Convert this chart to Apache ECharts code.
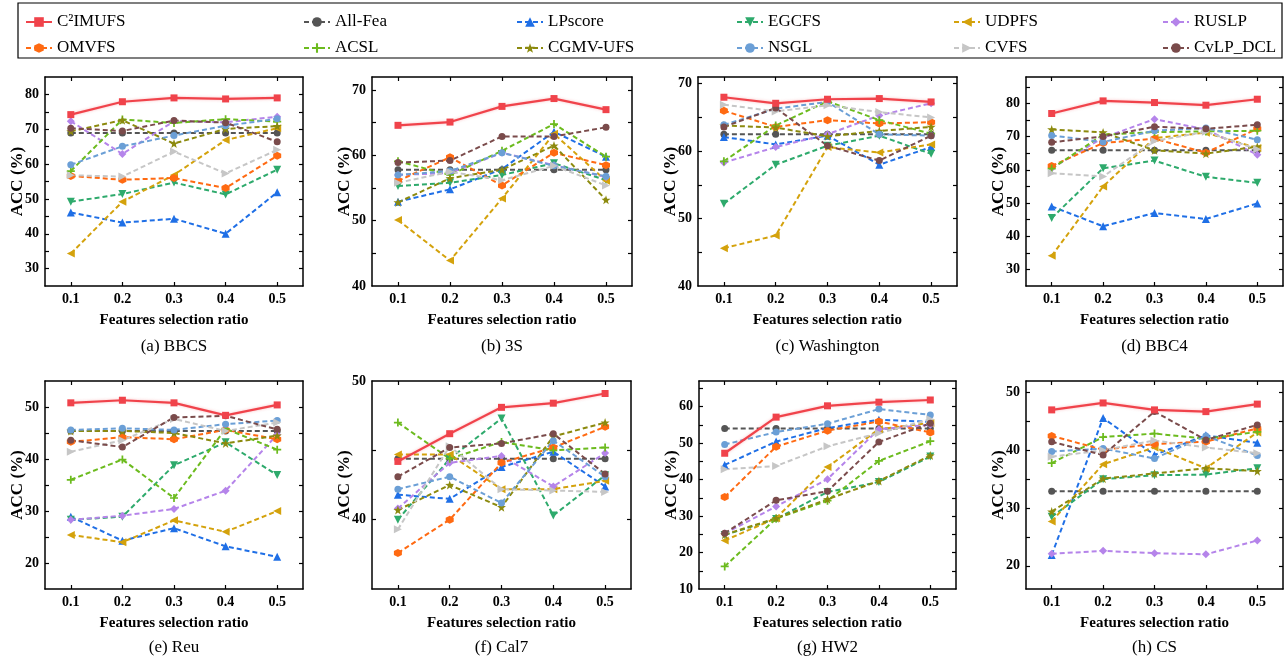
<!DOCTYPE html>
<html>
<head>
<meta charset="utf-8">
<title>ACC vs features selection ratio</title>
<script src="https://cdn.jsdelivr.net/npm/echarts@6/dist/echarts.min.js"></script>
<style>
  html, body { margin: 0; padding: 0; background: #fff; }
  #chart { width: 1286px; height: 664px; }
</style>
</head>
<body>
<div id="chart"></div>
<script>
// Feature selection ratios on the x axis
const ratios = [0.1, 0.2, 0.3, 0.4, 0.5];

// Compared methods (row order of every dataset table below)
const methods = ['C²IMUFS', 'All-Fea', 'LPscore', 'EGCFS', 'UDPFS', 'RUSLP',
                 'OMVFS', 'ACSL', 'CGMV-UFS', 'NSGL', 'CVFS', 'CvLP_DCL'];

// ACC (%) per dataset, one row per method, one column per ratio
const BBCS = [
  [74.2, 77.9, 79.0, 78.7, 79.0],
  [68.9, 68.9, 68.9, 68.9, 68.9],
  [46.1, 43.2, 44.3, 40.0, 51.9],
  [49.2, 51.4, 54.7, 51.3, 58.4],
  [34.3, 49.2, 56.9, 66.9, 70.3],
  [72.3, 62.9, 72.3, 72.0, 73.6],
  [56.6, 55.5, 56.0, 53.1, 62.4],
  [58.0, 72.8, 71.8, 72.9, 72.2],
  [69.4, 72.6, 65.9, 70.1, 70.9],
  [59.8, 65.1, 68.2, 71.0, 73.0],
  [56.8, 56.4, 63.6, 57.3, 64.1],
  [70.3, 69.5, 72.5, 71.9, 66.4]
];
const S3 = [
  [64.6, 65.1, 67.5, 68.7, 67.0],
  [57.8, 57.8, 57.8, 57.8, 57.8],
  [52.9, 54.8, 57.9, 63.6, 59.8],
  [55.3, 55.8, 57.0, 58.8, 56.2],
  [50.1, 43.9, 53.4, 63.3, 56.1],
  [57.0, 57.3, 60.4, 58.5, 56.7],
  [56.1, 59.7, 55.4, 60.4, 58.5],
  [59.1, 57.0, 60.7, 64.8, 59.8],
  [52.8, 56.5, 57.8, 61.5, 53.2],
  [57.0, 57.6, 60.4, 58.4, 56.8],
  [55.8, 57.5, 56.2, 58.4, 55.4],
  [58.9, 59.2, 62.9, 62.9, 64.3]
];
const Washington = [
  [68.0, 67.1, 67.7, 67.8, 67.3],
  [62.5, 62.5, 62.5, 62.5, 62.5],
  [62.1, 61.0, 62.3, 58.0, 60.6],
  [52.2, 58.0, 60.8, 62.3, 59.6],
  [45.6, 47.5, 60.6, 59.8, 61.0],
  [58.3, 60.6, 62.5, 65.3, 67.1],
  [66.0, 63.6, 64.6, 64.1, 64.3],
  [58.5, 63.8, 67.4, 64.6, 62.6],
  [63.8, 63.5, 62.2, 63.0, 63.6],
  [63.9, 66.3, 67.3, 62.5, 62.3],
  [66.9, 65.9, 66.8, 65.8, 65.0],
  [63.6, 66.4, 60.8, 58.6, 62.3]
];
const BBC4 = [
  [77.0, 80.8, 80.3, 79.5, 81.3],
  [65.9, 65.9, 65.9, 65.9, 65.9],
  [49.0, 43.0, 47.0, 45.2, 49.9],
  [45.5, 60.5, 62.8, 57.9, 56.1],
  [34.1, 55.0, 69.6, 71.2, 66.6],
  [60.5, 69.7, 75.3, 72.2, 64.6],
  [61.2, 68.1, 69.4, 65.2, 72.4],
  [60.4, 70.6, 71.4, 71.6, 71.8],
  [72.2, 71.3, 65.9, 64.9, 67.0],
  [70.4, 68.4, 71.8, 72.6, 69.1],
  [59.0, 58.0, 68.7, 71.5, 66.2],
  [68.3, 70.1, 73.0, 72.4, 73.6]
];
const Reu = [
  [50.8, 51.3, 50.8, 48.4, 50.4],
  [45.4, 45.4, 45.4, 45.4, 45.4],
  [28.9, 24.3, 26.7, 23.2, 21.2],
  [28.3, 28.9, 38.8, 43.2, 36.9],
  [25.4, 24.0, 28.2, 26.0, 30.0],
  [28.3, 29.1, 30.4, 33.9, 44.7],
  [43.3, 44.2, 43.8, 45.6, 43.8],
  [36.0, 39.9, 32.5, 45.8, 41.8],
  [45.4, 45.4, 45.0, 43.0, 44.5],
  [45.6, 45.9, 45.6, 46.7, 47.4],
  [41.4, 43.6, 47.7, 45.4, 47.0],
  [43.6, 42.3, 48.0, 48.3, 45.7]
];
const Cal7 = [
  [44.2, 46.2, 48.1, 48.4, 49.1],
  [44.4, 44.4, 44.4, 44.4, 44.4],
  [41.8, 41.5, 43.8, 44.9, 42.4],
  [40.0, 44.4, 47.3, 40.3, 43.2],
  [44.7, 44.7, 42.2, 42.2, 42.8],
  [40.8, 44.1, 44.6, 42.4, 44.8],
  [37.6, 40.0, 44.1, 45.2, 46.7],
  [47.0, 44.4, 45.6, 45.0, 45.2],
  [40.7, 42.5, 40.9, 46.0, 47.0],
  [42.2, 43.1, 41.2, 45.7, 43.1],
  [39.3, 45.3, 42.2, 42.1, 42.0],
  [43.1, 45.2, 45.5, 46.2, 43.3]
];
const HW2 = [
  [47.2, 57.1, 60.2, 61.2, 61.8],
  [54.0, 54.0, 54.0, 54.0, 54.0],
  [44.0, 50.4, 54.1, 56.4, 55.8],
  [24.8, 29.2, 36.6, 39.3, 46.3],
  [23.3, 29.4, 43.4, 53.8, 55.5],
  [25.2, 32.6, 40.1, 53.8, 55.0],
  [35.2, 49.0, 53.4, 55.9, 52.9],
  [16.2, 29.3, 34.2, 45.1, 50.5],
  [24.9, 29.4, 34.6, 39.6, 46.6],
  [49.6, 53.0, 55.3, 59.3, 57.7],
  [42.8, 43.7, 49.1, 52.7, 56.5],
  [25.3, 34.3, 36.8, 50.3, 55.4]
];
const CS = [
  [47.0, 48.2, 47.0, 46.7, 48.0],
  [32.9, 32.9, 32.9, 32.9, 32.9],
  [21.9, 45.6, 39.2, 42.6, 41.3],
  [28.5, 35.0, 35.7, 35.8, 36.9],
  [27.7, 37.6, 40.5, 36.9, 43.1],
  [22.1, 22.6, 22.2, 22.0, 24.4],
  [42.5, 40.1, 41.1, 41.5, 43.8],
  [37.8, 42.3, 42.9, 42.0, 43.2],
  [29.4, 35.1, 36.0, 36.9, 36.4],
  [39.8, 40.3, 38.6, 42.5, 39.1],
  [38.9, 40.0, 41.7, 40.5, 39.5],
  [41.5, 39.2, 46.7, 41.8, 44.4]
];

const datasets = [BBCS, S3, Washington, BBC4, Reu, Cal7, HW2, CS];
const panelTitles = ['(a) BBCS', '(b) 3S', '(c) Washington', '(d) BBC4',
                     '(e) Reu', '(f) Cal7', '(g) HW2', '(h) CS'];

// y-axis extents and tick labels of each panel
const yMins = [25, 40, 40, 25, 15, 35, 10, 16];
const yMaxs = [85, 72, 71, 88, 55, 50, 67, 52];
const yTickLabels = [
  [30, 40, 50, 60, 70, 80],
  [40, 50, 60, 70],
  [40, 50, 60, 70],
  [30, 40, 50, 60, 70, 80],
  [20, 30, 40, 50],
  [40, 50],
  [10, 20, 30, 40, 50, 60],
  [20, 30, 40, 50]
];

// ---- styling ----
const FONT = '"Liberation Serif", "Times New Roman", serif';
const colors = ['#f0434b', '#555555', '#1f6fe6', '#2eaa6c', '#d4a20c', '#b584ea',
                '#ff6a12', '#6cbb1e', '#8c8a0e', '#6b9fd6', '#c6c6c6', '#7a4b4b'];
const HEX = 'path://M0,-10L8.66,-5L8.66,5L0,10L-8.66,5L-8.66,-5Z';
const PLUS = 'path://M-1.3,-6H1.3V-1.3H6V1.3H1.3V6H-1.3V1.3H-6V-1.3H-1.3Z';
const STAR = 'path://M0,-10L2.35,-3.24L9.51,-3.09L3.8,1.24L5.88,8.09L0,4L-5.88,8.09L-3.8,1.24L-9.51,-3.09L-2.35,-3.24Z';
const symbols = [
  { s: 'rect', size: 7, rot: 0 },
  { s: 'circle', size: 7, rot: 0 },
  { s: 'triangle', size: 8, rot: 0 },
  { s: 'triangle', size: 8, rot: 180 },
  { s: 'triangle', size: 8, rot: 90 },
  { s: 'diamond', size: 8, rot: 0 },
  { s: HEX, size: 8, rot: 0 },
  { s: PLUS, size: 8, rot: 0 },
  { s: STAR, size: 9, rot: 0 },
  { s: 'circle', size: 7, rot: 0 },
  { s: 'triangle', size: 8, rot: -90 },
  { s: 'circle', size: 7, rot: 0 }
];

const gridPos = [
  { left: 45, top: 77, width: 258, height: 209 },
  { left: 372, top: 77, width: 260, height: 209 },
  { left: 698, top: 77, width: 259, height: 209 },
  { left: 1026, top: 77, width: 257, height: 209 },
  { left: 45, top: 381, width: 258, height: 208 },
  { left: 372, top: 381, width: 259, height: 208 },
  { left: 699, top: 381, width: 257, height: 208 },
  { left: 1026, top: 381, width: 257, height: 208 }
];

const axisLineStyle = { show: true, onZero: false, lineStyle: { color: '#000', width: 1.5 } };
const tickFont = { fontFamily: FONT, fontWeight: 'bold', fontSize: 14, color: '#000' };

const grids = [], xAxes = [], yAxes = [], series = [], graphics = [];

gridPos.forEach((g, i) => {
  grids.push({ left: g.left, top: g.top, width: g.width, height: g.height, containLabel: false });

  // minor + major tick positions on the y axis, every 5 units
  const yTicks = [];
  for (let v = Math.ceil(yMins[i] / 5) * 5; v <= yMaxs[i]; v += 5) {
    if (v > yMins[i] && v < yMaxs[i]) yTicks.push(v);
  }

  ['bottom', 'top'].forEach((pos) => {
    xAxes.push({
      gridIndex: i, type: 'value', position: pos, min: 0.05, max: 0.55,
      axisLine: axisLineStyle,
      axisTick: { show: true, inside: true, length: 4, customValues: ratios,
                  lineStyle: { color: '#000', width: 1.2 } },
      axisLabel: { show: pos === 'bottom', customValues: ratios, margin: 6,
                   formatter: (v) => v.toFixed(1), ...tickFont },
      splitLine: { show: false }
    });
  });
  ['left', 'right'].forEach((pos) => {
    yAxes.push({
      gridIndex: i, type: 'value', position: pos, min: yMins[i], max: yMaxs[i],
      axisLine: axisLineStyle,
      axisTick: { show: true, inside: true, length: 4, customValues: yTicks,
                  lineStyle: { color: '#000', width: 1.2 } },
      axisLabel: { show: pos === 'left', customValues: yTickLabels[i], margin: 6, ...tickFont },
      splitLine: { show: false }
    });
  });

  const table = datasets[i];
  methods.forEach((name, j) => {
    const sym = symbols[j];
    series.push({
      type: 'line', name: name,
      xAxisIndex: i * 2, yAxisIndex: i * 2,
      data: ratios.map((r, k) => [r, table[j][k]]),
      symbol: sym.s, symbolSize: sym.size, symbolRotate: sym.rot,
      showAllSymbol: true,
      itemStyle: { color: colors[j], opacity: 1 },
      lineStyle: j === 0
        ? { color: colors[j], width: 2.2, type: 'solid',
            shadowColor: 'rgba(240,67,75,0.35)', shadowBlur: 3 }
        : { color: colors[j], width: 2, type: [5, 3] },
      z: j === 0 ? 10 : 2,
      animation: false,
      emphasis: { disabled: true }
    });
  });

  const cx = g.left + g.width / 2;
  const row = i < 4 ? 0 : 1;
  graphics.push({
    type: 'text', x: g.left - 27, y: g.top + g.height / 2, rotation: Math.PI / 2,
    style: { text: 'ACC (%)', fontFamily: FONT, fontWeight: 'bold', fontSize: 17,
             fill: '#000', align: 'center', verticalAlign: 'middle' }
  });
  graphics.push({
    type: 'text', x: cx, y: row === 0 ? 320 : 623,
    style: { text: 'Features selection ratio', fontFamily: FONT, fontWeight: 'bold',
             fontSize: 15, fill: '#000', align: 'center', verticalAlign: 'middle' }
  });
  graphics.push({
    type: 'text', x: cx, y: row === 0 ? 347 : 648,
    style: { text: panelTitles[i], fontFamily: FONT, fontSize: 17,
             fill: '#000', align: 'center', verticalAlign: 'middle' }
  });
});

// legend frame
graphics.push({
  type: 'rect', shape: { x: 18, y: 3, width: 1264, height: 55 },
  style: { fill: 'none', stroke: '#000', lineWidth: 1.2 }, z: -1
});

// six legend columns, two entries each
const legendCols = [20, 298, 511, 731, 948, 1157];
const legends = legendCols.map((left, c) => ({
  orient: 'vertical', left: left, top: 8,
  data: [methods[c], methods[c + 6]],
  itemWidth: 26, itemHeight: 12, itemGap: 8,
  selectedMode: false,
  textStyle: { fontFamily: FONT, fontSize: 17, color: '#000', lineHeight: 18, padding: [0, 0, 0, 0] }
}));

const chart = echarts.init(document.getElementById('chart'), null, { renderer: 'canvas' });
chart.setOption({
  backgroundColor: '#fff',
  animation: false,
  legend: legends,
  grid: grids,
  xAxis: xAxes,
  yAxis: yAxes,
  series: series,
  graphic: graphics
});
</script>
</body>
</html>
